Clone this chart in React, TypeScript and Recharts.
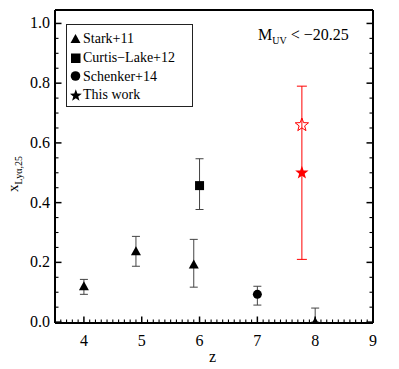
import React from 'react';
import { ScatterChart, Scatter, XAxis, YAxis, ErrorBar } from 'recharts';

// Stark+11 (triangles)
const starkZ = [4.0, 4.9, 5.9, 8.0];
const starkX = [0.12, 0.237, 0.193, 0.0];
const starkLo = [0.093, 0.187, 0.117, 0.0];
const starkHi = [0.143, 0.287, 0.277, 0.047];

// Curtis-Lake+12 (square)
const curtisZ = [6.0];
const curtisX = [0.457];
const curtisLo = [0.377];
const curtisHi = [0.547];

// Schenker+14 (circle)
const schenkerZ = [7.0];
const schenkerX = [0.093];
const schenkerLo = [0.057];
const schenkerHi = [0.12];

// This work (stars)
const workZ = [7.77];
const workX = [0.5];
const workLo = [0.21];
const workHi = [0.79];
const workOpenX = [0.66];

const xTicks = [4, 5, 6, 7, 8, 9];
const yTicks = [0, 0.2, 0.4, 0.6, 0.8, 1.0];
// minor tick positions (axis decoration only)
const xMinor = Array.from({ length: 56 }, (_, i) => Math.round((3.5 + i * 0.1) * 10) / 10);
const yMinor = Array.from({ length: 21 }, (_, i) => Math.round(i * 0.05 * 100) / 100);

const X_DOMAIN = [3.5, 9];
const Y_DOMAIN = [-0.003, 1.045];

const build = (z: number[], v: number[], lo: number[], hi: number[]) =>
  z.map((zz, i) => ({ z: zz, v: v[i], err: [v[i] - lo[i], hi[i] - v[i]] }));

const starkData = build(starkZ, starkX, starkLo, starkHi);
const curtisData = build(curtisZ, curtisX, curtisLo, curtisHi);
const schenkerData = build(schenkerZ, schenkerX, schenkerLo, schenkerHi);
const workData = build(workZ, workX, workLo, workHi);
const workOpenData = workZ.map((zz, i) => ({ z: zz, v: workOpenX[i] }));

const starPoints = (cx: number, cy: number, R: number, r: number) => {
  const pts: string[] = [];
  for (let i = 0; i < 10; i++) {
    const rad = i % 2 === 0 ? R : r;
    const a = -Math.PI / 2 + (i * Math.PI) / 5;
    pts.push(`${cx + rad * Math.cos(a)},${cy + rad * Math.sin(a)}`);
  }
  return pts.join(' ');
};

const Triangle = (p: any) => (
  <polygon points={`${p.cx},${p.cy - 5} ${p.cx - 5},${p.cy + 4} ${p.cx + 5},${p.cy + 4}`} fill="#000" />
);
const Square = (p: any) => <rect x={p.cx - 4.5} y={p.cy - 4.5} width={9} height={9} fill="#000" />;
const Circle = (p: any) => <circle cx={p.cx} cy={p.cy} r={4.5} fill="#000" />;
const FilledStar = (p: any) => <polygon points={starPoints(p.cx, p.cy, 7, 2.9)} fill="#ff0000" />;
const OpenStar = (p: any) => (
  <polygon points={starPoints(p.cx, p.cy, 7, 2.9)} fill="none" stroke="#ff0000" strokeWidth={1} />
);

const serif = 'Liberation Serif, DejaVu Serif, serif';
const MARGIN = 4; // tickMargin used on every axis, to recover the axis line position

const isMajor = (v: number, majors: number[]) => majors.some((m) => Math.abs(m - v) < 1e-6);

// draws inward tick marks (major + minor) and, optionally, labels
const makeTick = (side: 'bottom' | 'top' | 'left' | 'right', majors: number[], labels: boolean, fmt?: (v: number) => string) =>
  (props: any) => {
    const { x, y, payload } = props;
    const v = payload.value;
    const major = isMajor(v, majors);
    const len = major ? 6.5 : 3.5;
    const sw = major ? 1.5 : 1.1;
    const text = fmt ? fmt(v) : String(v);
    if (side === 'bottom') {
      const ay = y - MARGIN;
      return (
        <g>
          <line x1={x} x2={x} y1={ay} y2={ay - len} stroke="#000" strokeWidth={sw} />
          {labels && major && (
            <text x={x} y={ay + 23} textAnchor="middle" fontSize={16} style={{ fontFamily: serif }} fill="#000">{text}</text>
          )}
        </g>
      );
    }
    if (side === 'top') {
      const ay = y + MARGIN;
      return <line x1={x} x2={x} y1={ay} y2={ay + len} stroke="#000" strokeWidth={sw} />;
    }
    if (side === 'left') {
      const ax = x + MARGIN;
      return (
        <g>
          <line x1={ax} x2={ax + len} y1={y} y2={y} stroke="#000" strokeWidth={sw} />
          {labels && major && (
            <text x={ax - 5} y={y + 5} textAnchor="end" fontSize={16} style={{ fontFamily: serif }} fill="#000">{text}</text>
          )}
        </g>
      );
    }
    const ax = x - MARGIN;
    return <line x1={ax} x2={ax - len} y1={y} y2={y} stroke="#000" strokeWidth={sw} />;
  };

const axisLine = { stroke: '#000', strokeWidth: 2 };

const LegendIcon = ({ kind }: { kind: string }) => (
  <svg width={12} height={14} style={{ verticalAlign: 'middle', marginRight: 1 }}>
    {kind === 'tri' && <polygon points="5.5,2 0.5,11 10.5,11" fill="#000" />}
    {kind === 'sq' && <rect x={1} y={2.5} width={9.5} height={9.5} fill="#000" />}
    {kind === 'ci' && <circle cx={5.5} cy={7} r={4.8} fill="#000" />}
    {kind === 'st' && <polygon points={starPoints(5.8, 7.6, 6.3, 2.6)} fill="#000" />}
  </svg>
);

const legendItems = [
  { kind: 'tri', label: 'Stark+11' },
  { kind: 'sq', label: 'Curtis\u2212Lake+12' },
  { kind: 'ci', label: 'Schenker+14' },
  { kind: 'st', label: 'This work' },
];

export default function App() {
  return (
    <div style={{ position: 'absolute', left: 0, top: 0, width: 399, height: 369, background: '#fff', fontFamily: serif }}>
      <ScatterChart width={399} height={369} margin={{ top: 9, right: 25, bottom: 45, left: 54 }}>
        <XAxis xAxisId={0} dataKey="z" type="number" domain={X_DOMAIN} ticks={xMinor} interval={0} height={1}
          tickSize={0} tickMargin={MARGIN} tickLine={false} axisLine={axisLine} allowDataOverflow
          tick={makeTick('bottom', xTicks, true)} />
        <XAxis xAxisId="top" type="number" domain={X_DOMAIN} ticks={xMinor} interval={0} height={1} orientation="top"
          tickSize={0} tickMargin={MARGIN} tickLine={false} axisLine={axisLine} allowDataOverflow
          tick={makeTick('top', xTicks, false)} />
        <YAxis yAxisId={0} dataKey="v" type="number" domain={Y_DOMAIN} ticks={yMinor} interval={0} width={1}
          tickSize={0} tickMargin={MARGIN} tickLine={false} axisLine={axisLine} allowDataOverflow
          tick={makeTick('left', yTicks, true, (v) => v.toFixed(1))} />
        <YAxis yAxisId="right" type="number" domain={Y_DOMAIN} ticks={yMinor} interval={0} width={1} orientation="right"
          tickSize={0} tickMargin={MARGIN} tickLine={false} axisLine={axisLine} allowDataOverflow
          tick={makeTick('right', yTicks, false)} />

        <Scatter data={starkData} shape={Triangle} isAnimationActive={false}>
          <ErrorBar dataKey="err" direction="y" width={4} stroke="#444" strokeWidth={1} isAnimationActive={false} />
        </Scatter>
        <Scatter data={curtisData} shape={Square} isAnimationActive={false}>
          <ErrorBar dataKey="err" direction="y" width={4} stroke="#444" strokeWidth={1} isAnimationActive={false} />
        </Scatter>
        <Scatter data={schenkerData} shape={Circle} isAnimationActive={false}>
          <ErrorBar dataKey="err" direction="y" width={4} stroke="#444" strokeWidth={1} isAnimationActive={false} />
        </Scatter>
        <Scatter data={workData} shape={FilledStar} isAnimationActive={false}>
          <ErrorBar dataKey="err" direction="y" width={5} stroke="#ff0000" strokeWidth={1} isAnimationActive={false} />
        </Scatter>
        <Scatter data={workOpenData} shape={OpenStar} isAnimationActive={false} />
      </ScatterChart>

      {/* legend */}
      <div style={{ position: 'absolute', left: 66, top: 24, width: 122, height: 77, border: '1px solid #222', padding: '4px 0 0 3px', boxSizing: 'content-box', fontSize: 14, lineHeight: '18px' }}>
        {legendItems.map((it) => (
          <div key={it.label} style={{ whiteSpace: 'nowrap' }}>
            <LegendIcon kind={it.kind} />
            <span style={{ verticalAlign: 'middle' }}>{it.label}</span>
          </div>
        ))}
      </div>

      {/* annotation */}
      <div style={{ position: 'absolute', left: 258, top: 26, fontSize: 16, whiteSpace: 'nowrap' }}>
        M<sub style={{ fontSize: 10 }}>UV</sub> &lt; {'\u2212'}20.25
      </div>

      {/* axis titles */}
      <div style={{ position: 'absolute', left: 209, top: 348, fontSize: 16 }}>z</div>
      <div style={{ position: 'absolute', left: 14, top: 174, transform: 'translate(-50%, -50%) rotate(-90deg)', fontSize: 15, whiteSpace: 'nowrap' }}>
        x<sub style={{ fontSize: 10 }}>Ly{'\u03b1'},25</sub>
      </div>
    </div>
  );
}
